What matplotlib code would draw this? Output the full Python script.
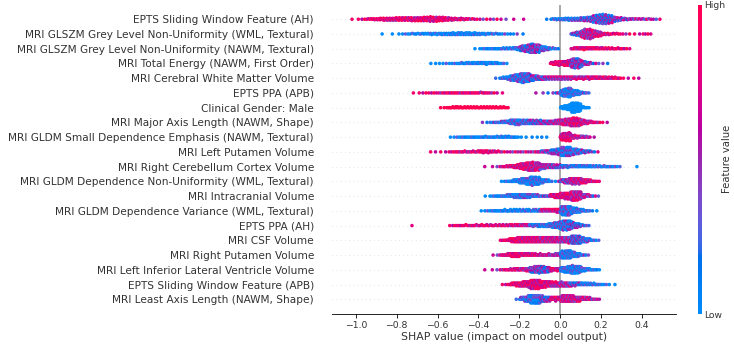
import numpy as np
import matplotlib
matplotlib.use("Agg")
import matplotlib.pyplot as plt
from matplotlib.colors import ListedColormap
from matplotlib.cm import ScalarMappable

# features, top to bottom as shown
features = [
    "EPTS Sliding Window Feature (AH)",
    "MRI GLSZM Grey Level Non-Uniformity (WML, Textural)",
    "MRI GLSZM Grey Level Non-Uniformity (NAWM, Textural)",
    "MRI Total Energy (NAWM, First Order)",
    "MRI Cerebral White Matter Volume",
    "EPTS PPA (APB)",
    "Clinical Gender: Male",
    "MRI Major Axis Length (NAWM, Shape)",
    "MRI GLDM Small Dependence Emphasis (NAWM, Textural)",
    "MRI Left Putamen Volume",
    "MRI Right Cerebellum Cortex Volume",
    "MRI GLDM Dependence Non-Uniformity (WML, Textural)",
    "MRI Intracranial Volume",
    "MRI GLDM Dependence Variance (WML, Textural)",
    "EPTS PPA (AH)",
    "MRI CSF Volume",
    "MRI Right Putamen Volume",
    "MRI Left Inferior Lateral Ventricle Volume",
    "EPTS Sliding Window Feature (APB)",
    "MRI Least Axis Length (NAWM, Shape)",
]

# SHAP values as histograms: 0.05 wide bins, bin 0 starts at -1.05
# start = index of the first listed bin for each feature
start = [0, 3, 12, 8, 14, 6, 9, 13, 10, 8, 13, 15, 13, 13, 6, 15, 14, 13, 15, 16]

counts = [
    [1, 3, 8, 14, 18, 20, 22, 26, 30, 24, 14, 10, 5, 3, 3, 2, 1, 1, 0, 1, 8, 14, 18, 26, 55, 60, 25, 10, 6, 5, 3],
    [1, 1, 3, 5, 7, 9, 11, 13, 14, 13, 9, 6, 4, 3, 1, 0, 0, 0, 0, 20, 60, 35, 10, 6, 3, 2, 4],
    [1, 5, 7, 9, 14, 45, 60, 25, 6, 0, 12, 14, 12, 10, 8, 4],
    [2, 3, 4, 8, 10, 12, 10, 4, 0, 0, 0, 0, 20, 30, 60, 20, 4, 2],
    [1, 12, 40, 60, 30, 20, 18, 18, 16, 16, 14, 12, 8, 2, 2],
    [1, 3, 4, 5, 6, 6, 6, 6, 4, 1, 0, 0, 1, 2, 4, 60, 35, 6],
    [3, 10, 10, 10, 10, 10, 8, 0, 0, 0, 0, 0, 30, 70, 8],
    [2, 6, 14, 35, 30, 28, 25, 28, 45, 60, 25, 8, 2],
    [3, 6, 7, 8, 8, 10, 7, 2, 2, 2, 0, 60, 20, 10, 1],
    [2, 2, 5, 7, 8, 14, 10, 4, 4, 4, 5, 14, 35, 60, 35, 14, 3],
    [1, 2, 8, 20, 50, 60, 30, 25, 15, 12, 12, 10, 8, 5, 0, 1],
    [4, 18, 45, 60, 22, 3, 30, 45, 25, 6],
    [1, 6, 10, 22, 25, 15, 8, 25, 40, 60, 20, 4],
    [3, 7, 10, 12, 12, 12, 15, 18, 60, 30, 10, 2],
    [1, 0, 0, 0, 4, 6, 7, 8, 8, 9, 10, 12, 14, 18, 35, 60, 30, 6],
    [8, 30, 40, 40, 38, 38, 40, 60, 30, 5],
    [2, 12, 30, 20, 14, 12, 16, 60, 35, 5],
    [1, 2, 6, 14, 20, 50, 45, 20, 45, 60, 20, 6],
    [3, 20, 35, 60, 40, 30, 28, 20, 15, 10, 4, 1],
    [1, 30, 60, 35, 25, 45, 35, 20, 6],
]

# mean feature value in each of those bins, 0 = low ... 9 = high
colours = [
    [8, 8, 8, 8, 7, 8, 7, 8, 7, 8, 7, 7, 7, 6, 6, 6, 6, 6, 5, 1, 1, 1, 2, 3, 3, 3, 4, 4, 5, 5, 5],
    [0, 0, 0, 0, 0, 0, 0, 0, 0, 0, 0, 1, 1, 1, 1, 0, 0, 0, 0, 3, 5, 6, 7, 8, 7, 8, 8],
    [0, 0, 0, 1, 1, 3, 4, 2, 1, 0, 7, 8, 8, 8, 8, 8],
    [0, 0, 0, 0, 0, 0, 0, 0, 0, 0, 0, 0, 8, 7, 4, 4, 4, 4],
    [2, 1, 2, 2, 3, 4, 5, 5, 6, 6, 7, 7, 8, 8, 8],
    [8, 8, 8, 7, 8, 7, 8, 7, 7, 7, 0, 0, 5, 4, 4, 1, 1, 2],
    [9, 9, 9, 9, 9, 9, 9, 0, 0, 0, 0, 0, 0, 0, 0],
    [4, 2, 2, 2, 2, 3, 4, 5, 6, 7, 6, 7, 8],
    [0, 0, 0, 0, 0, 0, 0, 0, 1, 1, 0, 7, 6, 5, 5],
    [8, 8, 8, 7, 7, 8, 7, 7, 6, 6, 6, 4, 3, 2, 2, 3, 4],
    [6, 6, 7, 7, 7, 6, 5, 4, 2, 1, 1, 1, 1, 1, 0, 0],
    [0, 0, 1, 1, 1, 2, 4, 6, 7, 7],
    [0, 0, 1, 1, 2, 2, 3, 7, 7, 6, 5, 4],
    [0, 0, 0, 0, 1, 1, 6, 7, 2, 1, 1, 1],
    [7, 0, 0, 0, 8, 8, 7, 8, 7, 7, 7, 6, 2, 1, 2, 2, 3, 2],
    [8, 8, 7, 7, 6, 6, 5, 3, 2, 1],
    [6, 7, 8, 7, 7, 6, 5, 1, 1, 2],
    [6, 6, 7, 7, 6, 4, 3, 7, 1, 1, 1, 0],
    [8, 8, 7, 7, 7, 6, 5, 3, 1, 1, 0, 0],
    [2, 2, 1, 3, 7, 6, 6, 6, 5],
]

# how much the feature values scatter inside a bin (gender is binary)
spread = [1, 1, 1, 1, 1, 1, 0, 1, 1, 1, 1, 1, 1, 1, 1, 1, 1, 1, 1, 1]

xticks = [-1.0, -0.8, -0.6, -0.4, -0.2, 0.0, 0.2, 0.4]

BIN0 = -1.05
BIN_W = 0.05
MIX = [0.0, -0.3, 0.3, -0.15, 0.15]


def lch_to_rgb(l, c, h):
    a = c * np.cos(h)
    b = c * np.sin(h)
    fy = (l + 16) / 116
    fx = fy + a / 500
    fz = fy - b / 200

    def finv(t):
        return np.where(t > 6 / 29, t ** 3, 3 * (6 / 29) ** 2 * (t - 4 / 29))

    X = 0.95047 * finv(fx)
    Y = finv(fy)
    Z = 1.08883 * finv(fz)
    r = 3.2406 * X - 1.5372 * Y - 0.4986 * Z
    g = -0.9689 * X + 1.8758 * Y + 0.0415 * Z
    bl = 0.0557 * X - 0.2040 * Y + 1.0570 * Z
    rgb = np.stack([r, g, bl], axis=-1)
    rgb = np.where(rgb > 0.0031308, 1.055 * np.abs(rgb) ** (1 / 2.4) - 0.055, 12.92 * rgb)
    return np.clip(rgb, 0, 1)


def red_blue():
    # shap's blue -> red scale, interpolated in Lch
    blue = (54.0, 70.0, 4.6588)
    red = (54.0, 90.0, 0.35470565 + 2 * np.pi)
    l_vals = np.r_[np.linspace(blue[0], 40.0, 50), np.linspace(40.0, red[0], 50)]
    c_vals = np.linspace(blue[1], red[1], 100)
    h_vals = np.linspace(blue[2], red[2], 100)
    return ListedColormap(lch_to_rgb(l_vals, c_vals, h_vals))


def spots_in_bin(n, left, mid, right):
    # n positions in [0, 1] following a density that goes linearly from the
    # left edge to the right edge of the bin (edges = mean with neighbours)
    dl = (left + mid) / 2
    dr = (right + mid) / 2
    q = (np.arange(n) + 0.5) / n * (dl + dr) / 2
    if abs(dr - dl) < 1e-9:
        return q / dl
    return (-dl + np.sqrt(dl * dl + 2 * (dr - dl) * q)) / (dr - dl)


def row_points(st, cnt, col, sp):
    xs, vs = [], []
    c = [0] + list(cnt) + [0]
    for j, n in enumerate(cnt):
        if n == 0:
            continue
        lo = BIN0 + (st + j) * BIN_W
        for k, t in enumerate(spots_in_bin(n, c[j], c[j + 1], c[j + 2])):
            xs.append(lo + t * BIN_W)
            vs.append(min(max(col[j] / 9 + MIX[k % 5] * sp, 0), 1))
    return np.array(xs), np.array(vs)


def swarm(xs, row_height=0.4):
    # same stacking as shap's beeswarm, without the random tie break
    quant = np.round(100 * (xs - xs.min()) / (xs.max() - xs.min() + 1e-8))
    inds = np.argsort(quant, kind="stable")
    ys = np.zeros(len(xs))
    layer, last = 0, -1
    for i in inds:
        if quant[i] != last:
            layer = 0
        ys[i] = np.ceil(layer / 2) * ((layer % 2) * 2 - 1)
        layer += 1
        last = quant[i]
    return ys * 0.9 * (row_height / np.max(ys + 1))


cmap = red_blue()
fig = plt.figure(figsize=(7.34, 3.45), dpi=100)
ax = fig.add_axes([332 / 734, 31 / 345, 344 / 734, 309.5 / 345])

n = len(features)
for i, name in enumerate(features):
    pos = n - 1 - i
    ax.axhline(pos, color="#cccccc", lw=0.5, dashes=(1, 5), zorder=-1)
    xs, vs = row_points(start[i], counts[i], colours[i], spread[i])
    ax.scatter(xs, pos + swarm(xs), c=vs, cmap=cmap, vmin=0, vmax=1,
               s=6.5, linewidth=0, zorder=3)

ax.axvline(0, color="#999999", lw=1.2, zorder=-1)

ax.set_ylim(-1, n)
ax.set_xlim(-1.116, 0.566)
ax.set_yticks(range(n))
ax.set_yticklabels(features[::-1], fontsize=7.6, color="#333333")
ax.tick_params(axis="y", length=0, pad=13)
ax.set_xticks(xticks)
ax.tick_params(axis="x", labelsize=6.7, labelcolor="#333333", length=3, width=0.6, pad=2)
ax.set_xlabel("SHAP value (impact on model output)", fontsize=7.8, color="#333333", labelpad=1.5)
for side in ["top", "right", "left"]:
    ax.spines[side].set_visible(False)
ax.spines["bottom"].set_linewidth(0.6)

cax = fig.add_axes([698 / 734, 31 / 345, 4 / 734, 309.5 / 345])
cb = fig.colorbar(ScalarMappable(cmap=cmap), cax=cax, ticks=[0, 1])
cb.set_ticklabels(["Low", "High"])
cb.outline.set_visible(False)
cax.tick_params(length=0, labelsize=6.6, labelcolor="#333333", pad=1.5)
cb.set_label("Feature value", fontsize=7.2, color="#333333", labelpad=-2)

fig.savefig("out.png", dpi=100)
